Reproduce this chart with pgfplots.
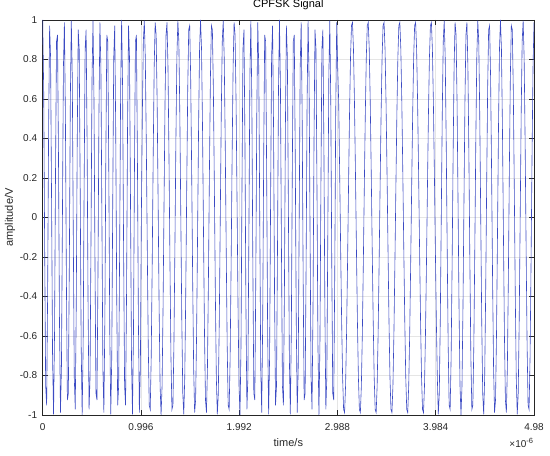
\documentclass[border=0pt]{standalone}
\usepackage{fontspec}
\setmainfont{Liberation Sans}
\usepackage{pgfplots}
\pgfplotsset{compat=1.18}
\definecolor{mlblue}{RGB}{60,75,195}
\definecolor{axgray}{RGB}{38,38,38}
\begin{document}
\begin{tikzpicture}
\begin{axis}[name=ax, scale only axis, width=491.3pt, height=395pt,
 xmin=0, xmax=4.98, ymin=-1, ymax=1,
 xtick={0,0.996,1.992,2.988,3.984,4.98},
 xticklabels={0,0.996,1.992,2.988,3.984,4.98},
 ytick={-1,-0.8,-0.6,-0.4,-0.2,0,0.2,0.4,0.6,0.8,1},
 yticklabels={-1,-0.8,-0.6,-0.4,-0.2,0,0.2,0.4,0.6,0.8,1},
 scaled x ticks=false,
 grid=major, major grid style={color=black!10, line width=0.5pt},
 tick align=inside, xtick pos=both, ytick pos=both, major tick length=4.9pt,
 axis line style={color=axgray, line width=0.5pt},
 every tick/.style={color=axgray, line width=0.5pt},
 xticklabel style={font=\fontsize{10}{12}\selectfont, text=axgray, anchor=base, inner sep=0pt, yshift=-15.7pt},
 yticklabel style={font=\fontsize{10}{12}\selectfont, text=axgray, anchor=east, inner sep=0pt, xshift=-5.4pt},
 title={CPFSK Signal},
 title style={font=\fontsize{11}{13}\selectfont, text=black, at={(axis description cs:0.5,1.0152)}, anchor=base, inner sep=0pt},
 xlabel={time/s},
 xlabel style={font=\fontsize{11}{13}\selectfont, text=axgray, at={(axis description cs:0.5,-0.0785)}, anchor=base, inner sep=0pt},
 ylabel={amplitude/V},
 ylabel style={font=\fontsize{11}{13}\selectfont, text=axgray, at={(axis description cs:-0.0605,0.5)}, anchor=base, inner sep=0pt},
]
\addplot[color=mlblue, line width=0.6pt, mark=none] coordinates {
(0,1)(0.01,0.649)(0.02,-0.156)(0.03,-0.853)(0.04,-0.951)(0.05,-0.383)(0.06,0.454)(0.07,0.972)(0.08,0.809)(0.09,0.078)
(0.1,-0.707)(0.11,-0.997)(0.12,-0.588)(0.13,0.233)(0.14,0.891)(0.15,0.924)(0.16,0.309)(0.17,-0.522)(0.18,-0.988)(0.19,-0.760)
(0.2,0)(0.21,0.760)(0.22,0.988)(0.23,0.522)(0.24,-0.309)(0.25,-0.924)(0.26,-0.891)(0.27,-0.233)(0.28,0.588)(0.29,0.997)
(0.3,0.707)(0.31,-0.078)(0.32,-0.809)(0.33,-0.972)(0.34,-0.454)(0.35,0.383)(0.36,0.951)(0.37,0.853)(0.38,0.156)(0.39,-0.649)
(0.4,-1)(0.41,-0.649)(0.42,0.156)(0.43,0.853)(0.44,0.951)(0.45,0.383)(0.46,-0.454)(0.47,-0.972)(0.48,-0.809)(0.49,-0.078)
(0.5,0.707)(0.51,0.997)(0.52,0.588)(0.53,-0.233)(0.54,-0.891)(0.55,-0.924)(0.56,-0.309)(0.57,0.522)(0.58,0.988)(0.59,0.760)
(0.6,0)(0.61,-0.760)(0.62,-0.988)(0.63,-0.522)(0.64,0.309)(0.65,0.924)(0.66,0.891)(0.67,0.233)(0.68,-0.588)(0.69,-0.997)
(0.7,-0.707)(0.71,0.078)(0.72,0.809)(0.73,0.972)(0.74,0.454)(0.75,-0.383)(0.76,-0.951)(0.77,-0.853)(0.78,-0.156)(0.79,0.649)
(0.8,1)(0.81,0.649)(0.82,-0.156)(0.83,-0.853)(0.84,-0.951)(0.85,-0.383)(0.86,0.454)(0.87,0.972)(0.88,0.809)(0.89,0.078)
(0.9,-0.707)(0.91,-0.997)(0.92,-0.588)(0.93,0.233)(0.94,0.891)(0.95,0.924)(0.96,0.309)(0.97,-0.522)(0.98,-0.988)(0.99,-0.760)
(1,0)(1.01,0.522)(1.02,0.891)(1.03,0.997)(1.04,0.809)(1.05,0.383)(1.06,-0.156)(1.07,-0.649)(1.08,-0.951)(1.09,-0.972)
(1.1,-0.707)(1.11,-0.233)(1.12,0.309)(1.13,0.760)(1.14,0.988)(1.15,0.924)(1.16,0.588)(1.17,0.078)(1.18,-0.454)(1.19,-0.853)
(1.2,-1)(1.21,-0.853)(1.22,-0.454)(1.23,0.078)(1.24,0.588)(1.25,0.924)(1.26,0.988)(1.27,0.760)(1.28,0.309)(1.29,-0.233)
(1.3,-0.707)(1.31,-0.972)(1.32,-0.951)(1.33,-0.649)(1.34,-0.156)(1.35,0.383)(1.36,0.809)(1.37,0.997)(1.38,0.891)(1.39,0.522)
(1.4,0)(1.41,-0.522)(1.42,-0.891)(1.43,-0.997)(1.44,-0.809)(1.45,-0.383)(1.46,0.156)(1.47,0.649)(1.48,0.951)(1.49,0.972)
(1.5,0.707)(1.51,0.233)(1.52,-0.309)(1.53,-0.760)(1.54,-0.988)(1.55,-0.924)(1.56,-0.588)(1.57,-0.078)(1.58,0.454)(1.59,0.853)
(1.6,1)(1.61,0.853)(1.62,0.454)(1.63,-0.078)(1.64,-0.588)(1.65,-0.924)(1.66,-0.988)(1.67,-0.760)(1.68,-0.309)(1.69,0.233)
(1.7,0.707)(1.71,0.972)(1.72,0.951)(1.73,0.649)(1.74,0.156)(1.75,-0.383)(1.76,-0.809)(1.77,-0.997)(1.78,-0.891)(1.79,-0.522)
(1.8,0)(1.81,0.522)(1.82,0.891)(1.83,0.997)(1.84,0.809)(1.85,0.383)(1.86,-0.156)(1.87,-0.649)(1.88,-0.951)(1.89,-0.972)
(1.9,-0.707)(1.91,-0.233)(1.92,0.309)(1.93,0.760)(1.94,0.988)(1.95,0.924)(1.96,0.588)(1.97,0.078)(1.98,-0.454)(1.99,-0.853)
(2,-1)(2.01,-0.649)(2.02,0.156)(2.03,0.853)(2.04,0.951)(2.05,0.383)(2.06,-0.454)(2.07,-0.972)(2.08,-0.809)(2.09,-0.078)
(2.1,0.707)(2.11,0.997)(2.12,0.588)(2.13,-0.233)(2.14,-0.891)(2.15,-0.924)(2.16,-0.309)(2.17,0.522)(2.18,0.988)(2.19,0.760)
(2.2,0)(2.21,-0.760)(2.22,-0.988)(2.23,-0.522)(2.24,0.309)(2.25,0.924)(2.26,0.891)(2.27,0.233)(2.28,-0.588)(2.29,-0.997)
(2.3,-0.707)(2.31,0.078)(2.32,0.809)(2.33,0.972)(2.34,0.454)(2.35,-0.383)(2.36,-0.951)(2.37,-0.853)(2.38,-0.156)(2.39,0.649)
(2.4,1)(2.41,0.649)(2.42,-0.156)(2.43,-0.853)(2.44,-0.951)(2.45,-0.383)(2.46,0.454)(2.47,0.972)(2.48,0.809)(2.49,0.078)
(2.5,-0.707)(2.51,-0.997)(2.52,-0.588)(2.53,0.233)(2.54,0.891)(2.55,0.924)(2.56,0.309)(2.57,-0.522)(2.58,-0.988)(2.59,-0.760)
(2.6,0)(2.61,0.760)(2.62,0.988)(2.63,0.522)(2.64,-0.309)(2.65,-0.924)(2.66,-0.891)(2.67,-0.233)(2.68,0.588)(2.69,0.997)
(2.7,0.707)(2.71,-0.078)(2.72,-0.809)(2.73,-0.972)(2.74,-0.454)(2.75,0.383)(2.76,0.951)(2.77,0.853)(2.78,0.156)(2.79,-0.649)
(2.8,-1)(2.81,-0.649)(2.82,0.156)(2.83,0.853)(2.84,0.951)(2.85,0.383)(2.86,-0.454)(2.87,-0.972)(2.88,-0.809)(2.89,-0.078)
(2.9,0.707)(2.91,0.997)(2.92,0.588)(2.93,-0.233)(2.94,-0.891)(2.95,-0.924)(2.96,-0.309)(2.97,0.522)(2.98,0.988)(2.99,0.760)
(3,0.588)(3.01,0.233)(3.02,-0.156)(3.03,-0.522)(3.04,-0.809)(3.05,-0.972)(3.06,-0.988)(3.07,-0.853)(3.08,-0.588)(3.09,-0.233)(3.1,0.156)(3.11,0.522)(3.12,0.809)(3.13,0.972)(3.14,0.988)(3.15,0.853)
(3.16,0.588)(3.17,0.233)(3.18,-0.156)(3.19,-0.522)(3.2,-0.809)(3.21,-0.972)(3.22,-0.988)(3.23,-0.853)(3.24,-0.588)(3.25,-0.233)(3.26,0.156)(3.27,0.522)(3.28,0.809)(3.29,0.972)(3.3,0.988)(3.31,0.853)
(3.32,0.588)(3.33,0.233)(3.34,-0.156)(3.35,-0.522)(3.36,-0.809)(3.37,-0.972)(3.38,-0.988)(3.39,-0.853)(3.4,-0.588)(3.41,-0.233)(3.42,0.156)(3.43,0.522)(3.44,0.809)(3.45,0.972)(3.46,0.988)(3.47,0.853)
(3.48,0.588)(3.49,0.233)(3.5,-0.156)(3.51,-0.522)(3.52,-0.809)(3.53,-0.972)(3.54,-0.988)(3.55,-0.853)(3.56,-0.588)(3.57,-0.233)(3.58,0.156)(3.59,0.522)(3.6,0.809)(3.61,0.972)(3.62,0.988)(3.63,0.853)
(3.64,0.588)(3.65,0.233)(3.66,-0.156)(3.67,-0.522)(3.68,-0.809)(3.69,-0.972)(3.7,-0.988)(3.71,-0.853)(3.72,-0.588)(3.73,-0.233)(3.74,0.156)(3.75,0.522)(3.76,0.809)(3.77,0.972)(3.78,0.988)(3.79,0.853)
(3.8,0.588)(3.81,0.233)(3.82,-0.156)(3.83,-0.522)(3.84,-0.809)(3.85,-0.972)(3.86,-0.988)(3.87,-0.853)(3.88,-0.588)(3.89,-0.233)(3.9,0.156)(3.91,0.522)(3.92,0.809)(3.93,0.972)(3.94,0.988)(3.95,0.853)
(3.96,0.588)(3.97,0.233)(3.98,-0.156)(3.99,-0.522)
(4,-0.809)(4.01,-0.997)(4.02,-0.891)(4.03,-0.522)(4.04,0)(4.05,0.522)(4.06,0.891)(4.07,0.997)(4.08,0.809)(4.09,0.383)
(4.1,-0.156)(4.11,-0.649)(4.12,-0.951)(4.13,-0.972)(4.14,-0.707)(4.15,-0.233)(4.16,0.309)(4.17,0.760)(4.18,0.988)(4.19,0.924)
(4.2,0.588)(4.21,0.078)(4.22,-0.454)(4.23,-0.853)(4.24,-1)(4.25,-0.853)(4.26,-0.454)(4.27,0.078)(4.28,0.588)(4.29,0.924)
(4.3,0.988)(4.31,0.760)(4.32,0.309)(4.33,-0.233)(4.34,-0.707)(4.35,-0.972)(4.36,-0.951)(4.37,-0.649)(4.38,-0.156)(4.39,0.383)
(4.4,0.809)(4.41,0.997)(4.42,0.891)(4.43,0.522)(4.44,0)(4.45,-0.522)(4.46,-0.891)(4.47,-0.997)(4.48,-0.809)(4.49,-0.383)
(4.5,0.156)(4.51,0.649)(4.52,0.951)(4.53,0.972)(4.54,0.707)(4.55,0.233)(4.56,-0.309)(4.57,-0.760)(4.58,-0.988)(4.59,-0.924)
(4.6,-0.588)(4.61,-0.078)(4.62,0.454)(4.63,0.853)(4.64,1)(4.65,0.853)(4.66,0.454)(4.67,-0.078)(4.68,-0.588)(4.69,-0.924)
(4.7,-0.988)(4.71,-0.760)(4.72,-0.309)(4.73,0.233)(4.74,0.707)(4.75,0.972)(4.76,0.951)(4.77,0.649)(4.78,0.156)(4.79,-0.383)
(4.8,-0.809)(4.81,-0.997)(4.82,-0.891)(4.83,-0.522)(4.84,0)(4.85,0.522)(4.86,0.891)(4.87,0.997)(4.88,0.809)(4.89,0.383)
(4.9,-0.156)(4.91,-0.649)(4.92,-0.951)(4.93,-0.972)(4.94,-0.707)(4.95,-0.233)(4.96,0.309)(4.97,0.760)(4.98,0.988)
};
\end{axis}
\node[anchor=base east, inner sep=0pt, font=\fontsize{10}{12}\selectfont, text=axgray] at ([xshift=-0.7pt,yshift=-33pt]ax.south east) {×10\raisebox{4pt}{\fontsize{7.5}{9}\selectfont -6}};
\path ([xshift=-42.7pt,yshift=-41pt]ax.south west) rectangle ([xshift=16pt,yshift=20pt]ax.north east);
\end{tikzpicture}
\end{document}
